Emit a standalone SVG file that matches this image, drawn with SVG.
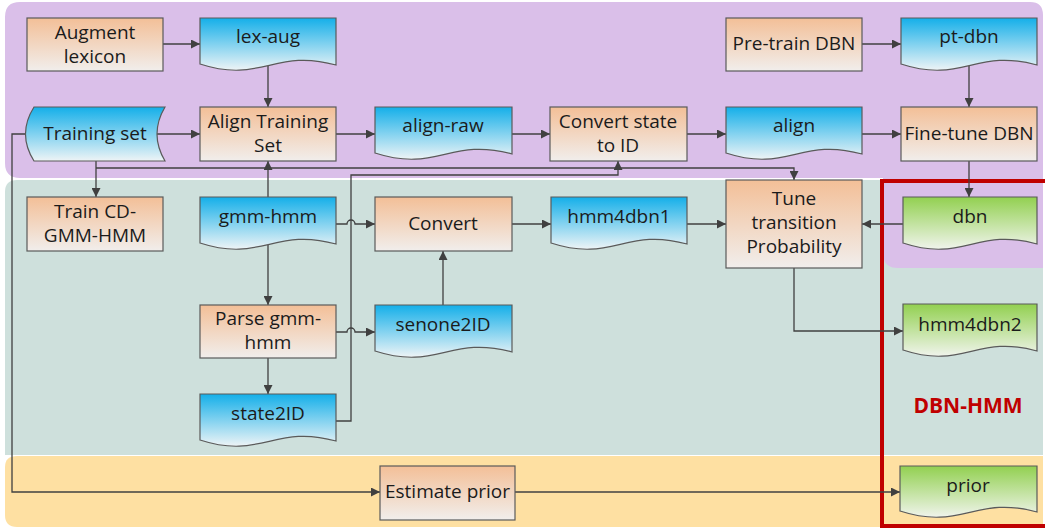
<svg xmlns="http://www.w3.org/2000/svg" width="1045" height="529" viewBox="0 0 1045 529">
  <defs>
    <linearGradient id="gProc" x1="0" y1="0" x2="0" y2="1">
      <stop offset="0" stop-color="#f3bf97"/>
      <stop offset="1" stop-color="#f1eeec"/>
    </linearGradient>
    <linearGradient id="gBlue" x1="0" y1="0" x2="0" y2="1">
      <stop offset="0" stop-color="#14afe9"/>
      <stop offset="1" stop-color="#eef4f6"/>
    </linearGradient>
    <linearGradient id="gGreen" x1="0" y1="0" x2="0" y2="1">
      <stop offset="0" stop-color="#92d050"/>
      <stop offset="1" stop-color="#f0f4ec"/>
    </linearGradient>
    <marker id="arrow" viewBox="0 0 10 10" refX="10" refY="5" markerWidth="9" markerHeight="9" markerUnits="userSpaceOnUse" orient="auto">
      <path d="M0,0 L10,5 L0,10 Z" fill="#404040"/>
    </marker>
  </defs>
  <style>
    .proc { fill: url(#gProc); stroke: #5a5a5a; stroke-width: 1.2; }
    .docB { fill: url(#gBlue); stroke: #5a5a5a; stroke-width: 1.2; }
    .docG { fill: url(#gGreen); stroke: #5a5a5a; stroke-width: 1.2; }
    .lbl { font-family: "Open Sans", "Liberation Sans", sans-serif; font-size: 19px; fill: #1b1b1b; text-anchor: middle; }
    .conn { fill: none; stroke: #404040; stroke-width: 1.3; }
    .arr { marker-end: url(#arrow); }
  </style>

  <rect width="1045" height="529" fill="#ffffff"/>

  <!-- swim-lane backgrounds -->
  <g id="lanes">
    <path d="M5,192 Q5,180 17,180 H1043 V455 H5 Z" fill="#cee0dc"/>
    <path d="M5,467 Q5,456 17,456 H1043 V527 H17 Q5,527 5,515 Z" fill="#fee0a2"/>
    <path d="M20,2 H1030 Q1043,2 1043,15 V268 H898 Q883,268 883,253 V178 H20 Q5,178 5,163 V17 Q5,2 20,2 Z" fill="#dabfe9"/>
  </g>

  <!-- DBN-HMM output frame -->
  <g id="dbn-hmm-frame">
    <rect x="882" y="181" width="200" height="345" fill="none" stroke="#c00000" stroke-width="4"/>
    <text x="968" y="413" class="lbl" style="font-weight:bold; fill:#c00000; font-size:21px">DBN-HMM</text>
  </g>

  <!-- connectors -->
  <g id="connectors">
    <path class="conn arr" d="M163,44 H200"/>
    <path class="conn arr" d="M268,66 V107"/>
    <path class="conn arr" d="M157,134 H200"/>
    <path class="conn arr" d="M336,134 H375"/>
    <path class="conn arr" d="M512,134 H550"/>
    <path class="conn arr" d="M687,134 H726"/>
    <path class="conn arr" d="M862,134 H901"/>
    <path class="conn arr" d="M862,44 H901"/>
    <path class="conn arr" d="M969,66 V107"/>
    <path class="conn arr" d="M969,161 V197"/>
    <path class="conn arr" d="M903,224 H862"/>
    <path class="conn arr" d="M96,161 V197"/>
    <path class="conn arr" d="M96,168 H794 V180"/>
    <path class="conn arr" d="M268,197 V161"/>
    <path class="conn arr" d="M336,421 H351 V175 H618 V161"/>
    <path class="conn arr" d="M336,224 H347 A4,4 0 0 1 355,224 H375"/>
    <path class="conn arr" d="M336,332 H347 A4,4 0 0 1 355,332 H375"/>
    <path class="conn arr" d="M268,245 V305"/>
    <path class="conn arr" d="M268,358 V394"/>
    <path class="conn arr" d="M443,305 V251"/>
    <path class="conn arr" d="M512,224 H551"/>
    <path class="conn arr" d="M687,224 H726"/>
    <path class="conn arr" d="M794,268 V331 H903"/>
    <path class="conn arr" d="M25,134 H12 V492 H380"/>
    <path class="conn arr" d="M515,492 H900"/>
  </g>

  <!-- process steps and data files -->
  <g id="augment-lexicon">
    <rect class="proc" x="27" y="18" width="136" height="53"/>
    <text class="lbl" x="95" y="39">Augment</text>
    <text class="lbl" x="95" y="63">lexicon</text>
  </g>
  <g id="lex-aug">
    <path class="docB" d="M200,18 H336 V65 C274.8,48 261.2,84 200,64 Z"/>
    <text class="lbl" x="268" y="43">lex-aug</text>
  </g>
  <g id="training-set">
    <path class="docB" d="M34,107 H165 Q149,134 165,161 H34 Q17,134 34,107 Z"/>
    <text class="lbl" x="95" y="140">Training set</text>
  </g>
  <g id="align-training-set">
    <rect class="proc" x="200" y="107" width="136" height="54"/>
    <text class="lbl" x="268" y="128">Align Training</text>
    <text class="lbl" x="268" y="152">Set</text>
  </g>
  <g id="align-raw">
    <path class="docB" d="M375,107 H512 V154 C450,137 437,173 375,153 Z"/>
    <text class="lbl" x="443" y="132">align-raw</text>
  </g>
  <g id="convert-state-to-id">
    <rect class="proc" x="550" y="107" width="137" height="54"/>
    <text class="lbl" x="618" y="128">Convert state</text>
    <text class="lbl" x="618" y="152">to ID</text>
  </g>
  <g id="align">
    <path class="docB" d="M726,107 H862 V154 C800.8,137 787.2,173 726,153 Z"/>
    <text class="lbl" x="794" y="132">align</text>
  </g>
  <g id="pre-train-dbn">
    <rect class="proc" x="726" y="18" width="136" height="53"/>
    <text class="lbl" x="794" y="50">Pre-train DBN</text>
  </g>
  <g id="pt-dbn">
    <path class="docB" d="M901,18 H1037 V65 C975.8,48 962.2,84 901,64 Z"/>
    <text class="lbl" x="969" y="43">pt-dbn</text>
  </g>
  <g id="fine-tune-dbn">
    <rect class="proc" x="901" y="107" width="136" height="54"/>
    <text class="lbl" x="969" y="140">Fine-tune DBN</text>
  </g>
  <g id="dbn">
    <path class="docG" d="M903,197 H1037 V244 C976.7,227 963.3,263 903,243 Z"/>
    <text class="lbl" x="970" y="223">dbn</text>
  </g>
  <g id="tune-transition-probability">
    <rect class="proc" x="726" y="180" width="136" height="88"/>
    <text class="lbl" x="794" y="205">Tune</text>
    <text class="lbl" x="794" y="229">transition</text>
    <text class="lbl" x="794" y="253">Probability</text>
  </g>
  <g id="train-cd-gmm-hmm">
    <rect class="proc" x="27" y="197" width="136" height="54"/>
    <text class="lbl" x="95" y="218">Train CD-</text>
    <text class="lbl" x="95" y="242">GMM-HMM</text>
  </g>
  <g id="gmm-hmm">
    <path class="docB" d="M200,197 H336 V244 C274.8,227 261.2,263 200,243 Z"/>
    <text class="lbl" x="268" y="223">gmm-hmm</text>
  </g>
  <g id="convert">
    <rect class="proc" x="375" y="197" width="137" height="54"/>
    <text class="lbl" x="443" y="230">Convert</text>
  </g>
  <g id="hmm4dbn1">
    <path class="docB" d="M551,197 H687 V244 C625.8,227 612.2,263 551,243 Z"/>
    <text class="lbl" x="619" y="223">hmm4dbn1</text>
  </g>
  <g id="parse-gmm-hmm">
    <rect class="proc" x="200" y="305" width="136" height="53"/>
    <text class="lbl" x="268" y="325">Parse gmm-</text>
    <text class="lbl" x="268" y="349">hmm</text>
  </g>
  <g id="senone2id">
    <path class="docB" d="M375,305 H512 V352 C450,335 437,371 375,351 Z"/>
    <text class="lbl" x="443" y="331">senone2ID</text>
  </g>
  <g id="state2id">
    <path class="docB" d="M200,394 H336 V441 C274.8,424 261.2,460 200,440 Z"/>
    <text class="lbl" x="268" y="420">state2ID</text>
  </g>
  <g id="hmm4dbn2">
    <path class="docG" d="M903,304 H1037 V351 C976.7,334 963.3,370 903,350 Z"/>
    <text class="lbl" x="970" y="331">hmm4dbn2</text>
  </g>
  <g id="estimate-prior">
    <rect class="proc" x="380" y="466" width="135" height="54"/>
    <text class="lbl" x="447.5" y="498">Estimate prior</text>
  </g>
  <g id="prior">
    <path class="docG" d="M900,466 H1037 V512 C975.4,495 961.7,531 900,511 Z"/>
    <text class="lbl" x="968" y="492">prior</text>
  </g>
</svg>
